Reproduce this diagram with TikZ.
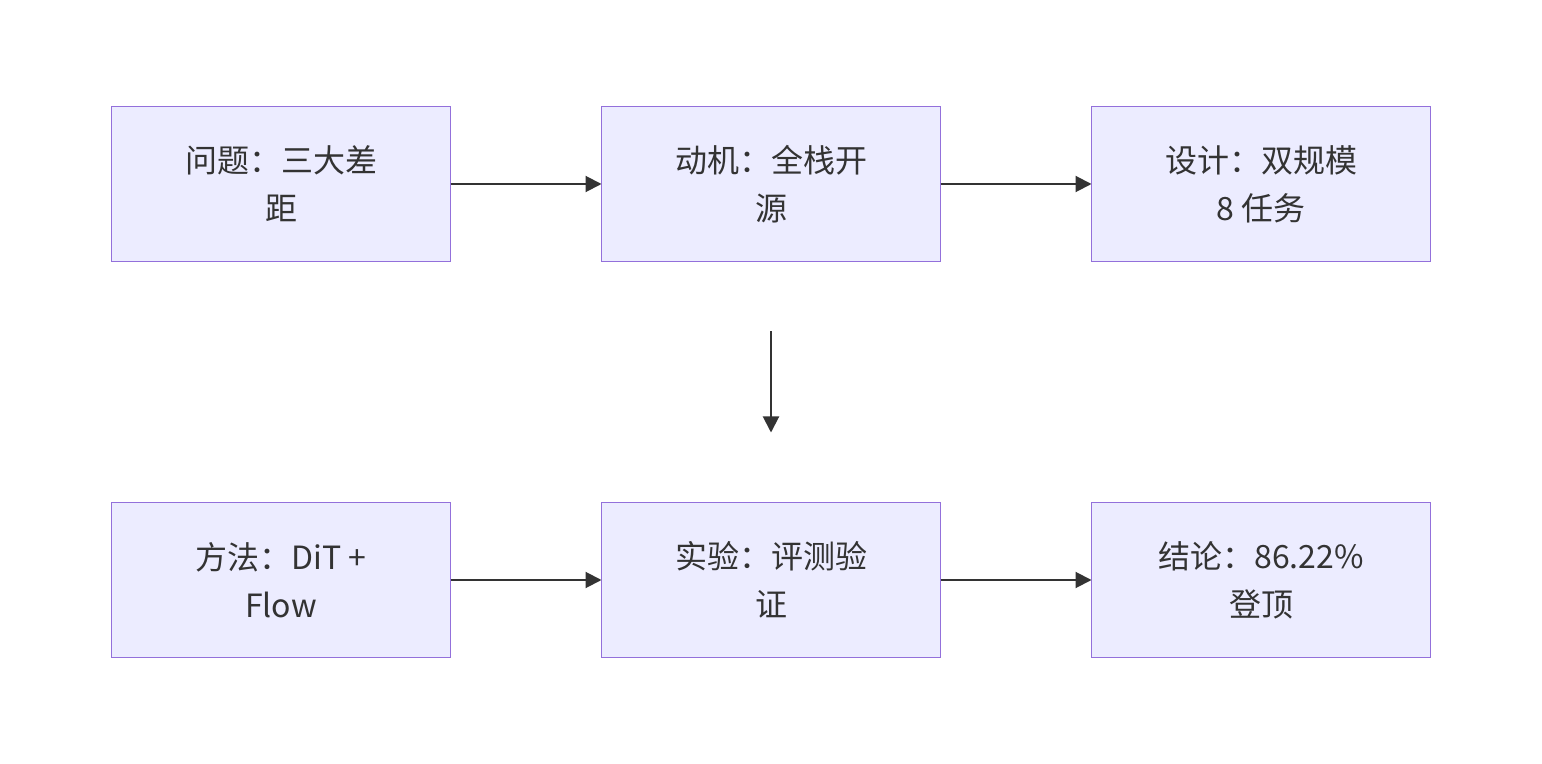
\documentclass[tikz,border=0pt]{standalone}
\usepackage{fontspec}
\setmainfont{Noto Sans CJK SC}
\usepackage{tikz}
\usetikzlibrary{positioning, arrows.meta}
\definecolor{boxfill}{HTML}{ECECFF}
\definecolor{boxline}{HTML}{9370DB}
\definecolor{ink}{HTML}{333333}

\begin{document}
\begin{tikzpicture}[
    stage/.style={rectangle, draw=boxline, fill=boxfill, line width=0.75pt,
      minimum width=169.5pt, minimum height=77.5pt, outer sep=0pt,
      align=center, text=ink, font=\fontsize{16pt}{24pt}\selectfont},
    flow/.style={draw=ink, line width=1pt, -{Triangle[length=8pt, width=8pt]}}
  ]
      \useasboundingbox (0,0) rectangle (771pt,-382pt);

      \node[stage] (problem) at (140.5pt,-92pt) {问题：三大差\\距};
      \node[stage, right=75.5pt of problem] (motive) {动机：全栈开\\源};
      \node[stage, right=75.5pt of motive] (design) {设计：双规模\\8 任务};

      \node[stage, below=120.5pt of problem] (method) {方法：DiT +\\Flow};
      \node[stage, right=75.5pt of method] (experiment) {实验：评测验\\证};
      \node[stage, right=75.5pt of experiment] (result) {结论：86.22\%\\登顶};

      \draw[flow] (problem) -- (motive);
      \draw[flow] (motive) -- (design);
      \draw[flow] (method) -- (experiment);
      \draw[flow] (experiment) -- (result);

      % loose arrow between the rows
      \coordinate[below=35pt of motive.south] (gaptop);
      \coordinate[above=35pt of experiment.north] (gapbottom);
      \draw[flow] (gaptop) -- (gapbottom);
    \end{tikzpicture}
\end{document}
